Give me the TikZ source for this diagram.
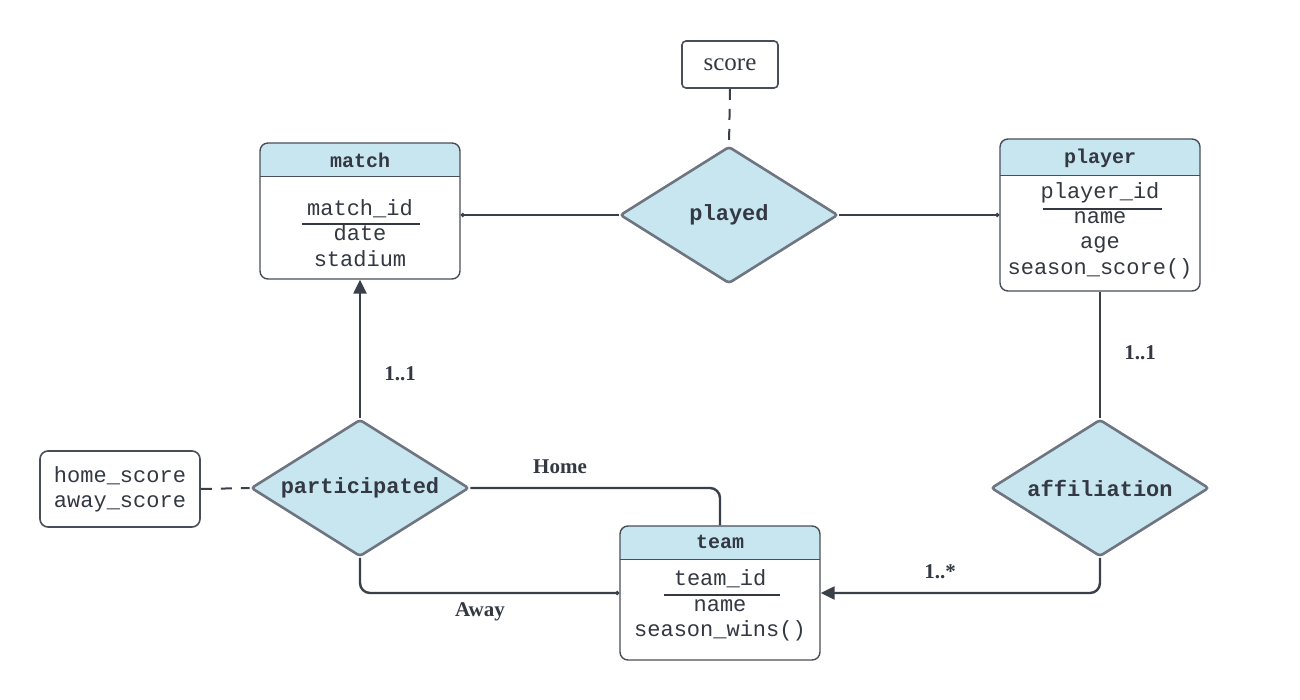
\documentclass[tikz,border=0pt]{standalone}
\usepackage{fontspec}
\setmainfont{Liberation Serif}
\setmonofont{Liberation Mono}
\usetikzlibrary{shapes.geometric,arrows.meta,calc}
\definecolor{hdrblue}{RGB}{200,230,240}
\definecolor{dmdline}{RGB}{110,117,128}
\definecolor{boxline}{RGB}{72,78,88}
\definecolor{connline}{RGB}{58,64,74}
\definecolor{txt}{RGB}{51,56,66}
\begin{document}
\begin{tikzpicture}[x=1pt,y=-1pt,
  entity/.style={draw=boxline, line width=1.4pt, rounded corners=8pt, fill=white, inner sep=0pt,
    path picture={
      \fill[hdrblue, sharp corners] (path picture bounding box.north west) rectangle ([yshift=-#1]path picture bounding box.north east);
      \draw[boxline, line width=1pt, sharp corners] ([yshift=-#1]path picture bounding box.north west) -- ([yshift=-#1]path picture bounding box.north east);
    }},
  hdrtext/.style={inner sep=0pt, text=txt, font=\fontsize{20}{24}\selectfont\ttfamily\bfseries},
  attrtext/.style={inner sep=0pt, text=txt, align=center, font=\fontsize{22}{25.3}\selectfont\ttfamily},
  keyline/.style={draw=txt, line width=1.6pt},
  rel/.style={diamond, draw=dmdline, line width=2.6pt, fill=hdrblue, rounded corners=3pt, inner sep=0pt,
    aspect=1.5912, minimum width=218pt, minimum height=137pt},
  reltext/.style={inner sep=0pt, text=txt, font=\fontsize{22}{26}\selectfont\ttfamily\bfseries},
  attrbox/.style={draw=boxline, line width=1.6pt, fill=white, inner sep=0pt, text=txt},
  conn/.style={draw=connline, line width=2.4pt},
  dashconn/.style={draw=connline, line width=2pt, dash pattern=on 11pt off 9pt},
  lbl/.style={inner sep=0pt, text=txt, font=\fontsize{21}{24}\selectfont\bfseries},
  tipdot/.style={-{Circle[length=4pt]}},
  tiparrow/.style={-{Triangle[length=14pt,width=13pt]}}
]
\useasboundingbox (0,0) rectangle (1300,700);

% entities
\node[entity=34pt, minimum width=200pt, minimum height=136pt] (match) at (360,211) {};
\node[hdrtext] (match-t) at (360,160) {match};
\node[attrtext] (match-a) at (360,233) {match\_id\\date\\stadium};
\draw[keyline] (302,224) -- (420,224);

\node[entity=37pt, minimum width=200pt, minimum height=152pt] (player) at (1100,215) {};
\node[hdrtext] (player-t) at (1100,158) {player};
\node[attrtext] (player-a) at (1100,230.5) {player\_id\\name\\age\\season\_score()};
\draw[keyline] (1043,209) -- (1162,209);

\node[entity=33pt, minimum width=200pt, minimum height=134pt] (team) at (720,593) {};
\node[hdrtext] (team-t) at (720,542) {team};
\node[attrtext] (team-a) at (720,605.5) {team\_id\\name\\season\_wins()};
\draw[keyline] (664,595) -- (780,595);

% relationships
\node[rel] (played) at (729,215) {};
\node[reltext] (played-t) at (729,215) {played};
\node[rel] (affil) at (1100,488) {};
\node[reltext] (affil-t) at (1100,488) {affiliation};
\node[rel] (part) at (360,488) {};
\node[reltext] (part-t) at (360,488) {participated};

% attribute boxes
\node[attrbox, rounded corners=4pt, minimum width=96pt, minimum height=47pt,
  font=\fontsize{25}{28}\selectfont] (score) at (730,64.5) {score};
\node[attrbox, rounded corners=8pt, minimum width=160pt, minimum height=76pt, align=center,
  font=\fontsize{22}{25.3}\selectfont\ttfamily] (hs) at (120,489) {home\_score\\away\_score};

% connectors
\draw[conn, tipdot] (played.west) -- (played.west -| match.east);
\draw[conn, tipdot] (played.east) -- (played.east -| player.west);
\draw[dashconn] (score.south) -- (played.north);
\draw[conn] (player.south) -- (affil.north);
\draw[conn, rounded corners=10pt, tiparrow] (affil.south) |- (team.east);
\draw[conn, tiparrow] (part.north) -- (match.south);
\draw[conn, rounded corners=10pt] (part.east) -| (team.north);
\draw[conn, rounded corners=10pt, tipdot] (part.south) |- (team.west);
\draw[dashconn] (hs.east) -- (part.west);

% labels
\node[lbl] (l1) at (400,374) {1..1};
\node[lbl] (l2) at (1140,353) {1..1};
\node[lbl] (l3) at (940,572) {1..*};
\node[lbl] (l4) at (560,467) {Home};
\node[lbl] (l5) at (480,612) {Away};
\end{tikzpicture}
\end{document}
